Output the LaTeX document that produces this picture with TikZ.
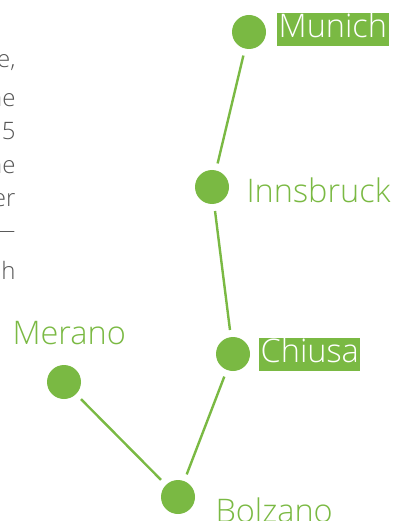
\documentclass[tikz,border=0pt]{standalone}
\usepackage{fontspec}
\setmainfont{Open Sans Light}
\definecolor{routegreen}{HTML}{7AB943}
\definecolor{textgrey}{HTML}{555555}
\tikzset{
    stop/.style={circle,fill=routegreen,minimum size=34pt,inner sep=0pt},
    link/.style={routegreen,line width=2.4pt,shorten <=7pt,shorten >=7pt},
    town/.style={anchor=west,text=routegreen,font=\fontsize{32.5}{34}\selectfont},
    hub/.style={town,fill=routegreen,text=white,inner sep=1.5pt,text height=23pt,text depth=7pt},
    prose/.style={anchor=east,text=textgrey,font=\fontsize{24}{25}\selectfont}
}
\begin{document}
\begin{tikzpicture}[x=1pt,y=-1pt]
    \useasboundingbox (0,0) rectangle (398,521);
    \clip (0,0) rectangle (398,521);
    % stops
    \node[stop] (munich) at (249,32) {};
    \node[stop] (innsbruck) at (212,187) {};
    \node[stop] (chiusa) at (233,354) {};
    \node[stop] (merano) at (64,382) {};
    \node[stop] (bolzano) at (178,497) {};
    % route
    \draw[link] (munich) -- (innsbruck);
    \draw[link] (innsbruck) -- (chiusa);
    \draw[link] (chiusa) -- (bolzano);
    \draw[link] (merano) -- (bolzano);
    % names
    \node[hub] (munichlabel) at (277,29.5) {Munich};
    \node[town] (innsbrucklabel) at (243,190) {Innsbruck};
    \node[hub] (chiusalabel) at (259,354.5) {Chiusa};
    \node[town] (meranolabel) at (9,333) {Merano};
    \node[town] (bolzanolabel) at (212,510) {Bolzano};
    % cut-off text on the left
    \node[prose] (line1) at (19,63) {e,};
    \node[prose] (line2) at (19,98) {he};
    \node[prose] (line3) at (19,131) {5};
    \node[prose] (line4) at (19,165) {he};
    \node[prose] (line5) at (19,200) {er};
    \node[prose] (line6) at (19,235) {—};
    \node[prose] (line7) at (19,270) {h};
\end{tikzpicture}
\end{document}
